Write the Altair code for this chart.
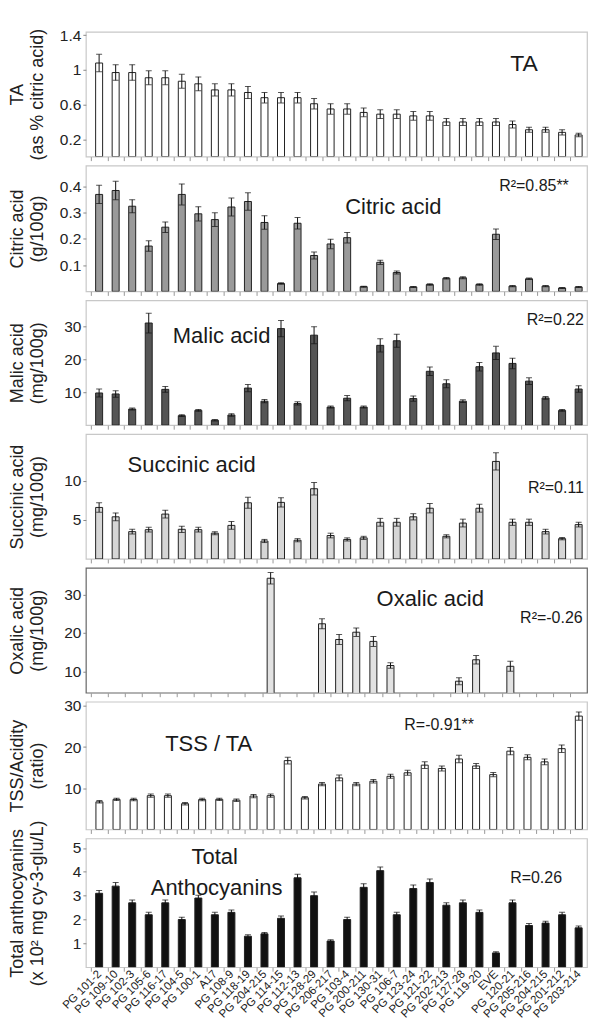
import json
import altair as alt
import pandas as pd

FONT = "Liberation Sans"

genotypes = ["PG 101-2", "PG 109-10", "PG 102-3", "PG 105-6", "PG 116-17", "PG 104-5",
             "PG 100-1", "A17", "PG 108-9", "PG 118-19", "PG 204-215", "PG 114-15",
             "PG 112-13", "PG 128-29", "PG 206-217", "PG 103-4", "PG 200-211", "PG 130-31",
             "PG 106-7", "PG 123-24", "PG 121-22", "PG 202-213", "PG 127-28", "PG 119-20",
             "EVE", "PG 120-21", "PG 205-216", "PG 204-215", "PG 201-212", "PG 203-214"]

ta = [1.08, 0.97, 0.97, 0.91, 0.91, 0.87, 0.84, 0.77, 0.77, 0.74, 0.68, 0.68, 0.68, 0.61, 0.55,
      0.55, 0.51, 0.49, 0.49, 0.47, 0.47, 0.40, 0.40, 0.40, 0.40, 0.37, 0.31, 0.31, 0.28, 0.25]
ta_err = [0.10, 0.09, 0.09, 0.08, 0.08, 0.08, 0.08, 0.07, 0.07, 0.07, 0.06, 0.06, 0.06, 0.06, 0.06,
          0.06, 0.05, 0.05, 0.05, 0.05, 0.05, 0.04, 0.04, 0.04, 0.04, 0.04, 0.03, 0.03, 0.03, 0.02]

citric = [0.37, 0.385, 0.325, 0.173, 0.245, 0.37, 0.296, 0.274, 0.322, 0.343, 0.263, 0.03, 0.26,
          0.137, 0.181, 0.205, 0.018, 0.111, 0.072, 0.017, 0.026, 0.05, 0.052, 0.026, 0.218, 0.02,
          0.048, 0.02, 0.013, 0.017]
citric_err = [0.035, 0.035, 0.025, 0.02, 0.02, 0.04, 0.027, 0.026, 0.034, 0.033, 0.026, 0.003,
              0.022, 0.013, 0.018, 0.02, 0.002, 0.008, 0.006, 0.002, 0.003, 0.003, 0.004, 0.003,
              0.02, 0.002, 0.003, 0.002, 0.002, 0.002]

malic = [9.8, 9.5, 4.9, 31.1, 10.9, 2.9, 4.5, 1.5, 3.1, 11.3, 7.3, 29.4, 6.6, 27.4, 5.5, 8.2, 5.5,
         24.3, 25.7, 8.1, 16.4, 12.6, 7.3, 17.8, 22.0, 18.8, 13.4, 8.3, 4.5, 11.0]
malic_err = [1.2, 1.0, 0.3, 3.0, 0.9, 0.3, 0.3, 0.2, 0.4, 1.1, 0.5, 2.5, 0.5, 2.6, 0.3, 0.8, 0.3,
             2.0, 2.0, 0.8, 1.3, 1.2, 0.4, 1.3, 2.0, 1.6, 1.0, 0.4, 0.3, 1.0]

succinic = [6.6, 5.4, 3.5, 3.75, 5.75, 3.8, 3.75, 3.3, 4.3, 7.2, 2.3, 7.25, 2.4, 9.0, 3.0, 2.5, 2.7,
            4.7, 4.7, 5.4, 6.5, 2.9, 4.6, 6.5, 12.5, 4.7, 4.7, 3.5, 2.6, 4.4]
succinic_err = [0.6, 0.5, 0.3, 0.3, 0.5, 0.4, 0.3, 0.2, 0.5, 0.7, 0.2, 0.6, 0.2, 0.8, 0.3, 0.2, 0.2,
                0.5, 0.5, 0.4, 0.6, 0.2, 0.5, 0.5, 1.1, 0.4, 0.4, 0.3, 0.15, 0.3]

oxalic = [None, None, None, None, None, None, None, None, None, None, 34.3, None, None, 22.4, 18.3,
          20.2, 17.8, 11.5, None, None, None, 7.4, 13.0, None, 11.3, None, None, None, None, None]
oxalic_err = [None, None, None, None, None, None, None, None, None, None, 1.5, None, None, 1.3, 1.3,
              1.1, 1.3, 0.7, None, None, None, 0.9, 1.1, None, 1.3, None, None, None, None, None]

tss = [6.7, 7.3, 7.25, 8.2, 8.2, 6.25, 7.25, 7.3, 7.1, 8.1, 8.2, 16.7, 7.7, 11.0, 12.5, 11.0, 11.7,
       12.9, 13.75, 15.6, 14.8, 17.1, 15.4, 13.3, 19.0, 17.5, 16.4, 19.6, 27.5, None]
tss_err = [0.3, 0.3, 0.3, 0.4, 0.4, 0.3, 0.3, 0.3, 0.3, 0.4, 0.4, 0.8, 0.3, 0.4, 0.7, 0.4, 0.4, 0.5,
           0.6, 0.8, 0.6, 0.9, 0.6, 0.5, 0.9, 0.6, 0.7, 0.9, 1.0, None]

anth = [3.1, 3.4, 2.7, 2.2, 2.7, 2.0, 2.9, 2.2, 2.3, 1.3, 1.4, 2.05, 3.75, 3.0, 1.1, 2.0, 3.35, 4.05,
        2.2, 3.3, 3.55, 2.6, 2.7, 2.3, 0.6, 2.7, 1.75, 1.85, 2.2, 1.65]
anth_err = [0.12, 0.15, 0.12, 0.1, 0.12, 0.1, 0.12, 0.1, 0.1, 0.06, 0.06, 0.1, 0.15, 0.15, 0.05, 0.1,
            0.15, 0.15, 0.1, 0.15, 0.15, 0.1, 0.12, 0.1, 0.05, 0.12, 0.08, 0.08, 0.1, 0.08]

W = 502
N = len(genotypes)
label_expr = json.dumps(genotypes) + "[round(datum.value + 0.5)]"


def ann(text, x, y, size, align="center"):
    return alt.Chart(pd.DataFrame({"t": [text]})).mark_text(
        fontSize=size, align=align, baseline="middle", color="#1a1a1a", font=FONT
    ).encode(text="t:N", x=alt.value(x), y=alt.value(y))


def panel(values, errors, fill, title, domain, ticks, height, step, annotations,
          bottom=False, frame="#c8c8c8"):
    df = pd.DataFrame({"idx": list(range(N)), "value": values, "err": errors}).dropna()
    df["lo"] = df["value"] - df["err"]
    df["hi"] = df["value"] + df["err"]
    bounds = [i - 0.5 for i in range(N) if i * step <= W - 1]
    xaxis = alt.Axis(
        title=None, values=bounds, tickSize=4, tickColor="#999",
        domain=False, grid=False, labels=bottom,
        labelExpr=label_expr, labelAngle=-45, labelAlign="right", labelBaseline="middle",
        labelOffset=step / 2, labelFontSize=11.5, labelPadding=1, labelColor="#222",
        labelOverlap=False, labelFlush=False, labelBound=False,
    )
    xs = alt.Scale(domain=[-0.5, -0.5 + W / step], nice=False, zero=False)
    X = lambda: alt.X("idx:Q", scale=xs, axis=xaxis)
    ys = alt.Scale(domain=domain, zero=False, nice=False)
    yaxis = alt.Axis(
        title=title, values=ticks, format="~f", grid=False, domain=False, tickSize=3,
        tickColor="#888", labelFontSize=15.5, labelColor="#222", labelPadding=2,
        titleFontSize=18, titleFontWeight="normal", titleColor="#222",
        titleX=-77, titleY=height / 2, titleAngle=270, titleBaseline="top", titleAlign="center",
        titleLineHeight=20,
    )
    base = alt.Chart(df)
    bars = base.mark_bar(width=7, orient="vertical", fill=fill, stroke="#222", strokeWidth=1,
                         clip=True).encode(x=X(), y=alt.Y("value:Q", scale=ys, axis=yaxis))
    rule = base.mark_rule(color="#111", strokeWidth=1, clip=True).encode(
        x=X(), y=alt.Y("lo:Q", scale=ys, axis=yaxis), y2="hi:Q")
    cap_hi = base.mark_tick(color="#111", thickness=1, size=6, orient="horizontal",
                            clip=True).encode(x=X(), y=alt.Y("hi:Q", scale=ys, axis=yaxis))
    cap_lo = base.mark_tick(color="#111", thickness=1, size=6, orient="horizontal",
                            clip=True).encode(x=X(), y=alt.Y("lo:Q", scale=ys, axis=yaxis))
    layers = [bars, rule, cap_hi, cap_lo] + annotations
    return alt.layer(*layers).properties(
        width=W, height=height, view=alt.ViewBackground(stroke=frame, strokeWidth=1.2))


S1 = 16.9
S2 = 17.5
BIG = 22
SMALL = 16

p1 = panel(ta, ta_err, "white", ["TA", "(as % citric acid)"], [0, 1.44], [0.2, 0.6, 1, 1.4],
           125, S1, [ann("TA", 439, 32, 23)])
p2 = panel(citric, citric_err, "#9a9a9a", ["Citric acid", "(g/100g)"], [0, 0.48],
           [0.1, 0.2, 0.3, 0.4], 126, S1,
           [ann("Citric acid", 308, 41, BIG), ann("R²=0.85**", 414, 20, SMALL, "left")])
p3 = panel(malic, malic_err, "#555555", ["Malic acid", "(mg/100g)"], [0, 38], [10, 20, 30],
           125, S1, [ann("Malic acid", 136, 36, BIG), ann("R²=0.22", 499, 20, SMALL, "right")])
p4 = panel(succinic, succinic_err, "#d6d6d6", ["Succinic acid", "(mg/100g)"], [0, 16], [5, 10],
           125, S1, [ann("Succinic acid", 106, 31, BIG), ann("R²=0.11", 499, 54, SMALL, "right")])
p5 = panel(oxalic, oxalic_err, "#e2e2e2", ["Oxalic acid", "(mg/100g)"], [4.4, 37], [10, 20, 30],
           125, S2, [ann("Oxalic acid", 345, 31, BIG), ann("R²=-0.26", 435, 50, SMALL, "left")],
           frame="#666")
p6 = panel(tss, tss_err, "white", ["TSS/Acidity", "(ratio)"], [0, 31], [10, 20, 30],
           128, S2, [ann("TSS / TA", 123, 42, BIG), ann("R=-0.91**", 319, 23, SMALL, "left")])
p7 = panel(anth, anth_err, "#111111", ["Total anthocyanins", "(x 10² mg cy-3-glu/L)"], [0, 5.4],
           [1, 2, 3, 4, 5], 129, S1,
           [ann("Total", 129, 19, BIG), ann("Anthocyanins", 131, 50, BIG),
            ann("R=0.26", 425, 40, SMALL, "left")], bottom=True)

chart = alt.vconcat(p1, p2, p3, p4, p5, p6, p7, spacing=9, bounds="flush").properties(
    padding={"left": 0, "top": 18, "right": 0, "bottom": 0}
).configure_axis(labelFont=FONT, titleFont=FONT).configure_text(font=FONT)

chart.save("out.html", embed_options={"renderer": "svg", "actions": False})
